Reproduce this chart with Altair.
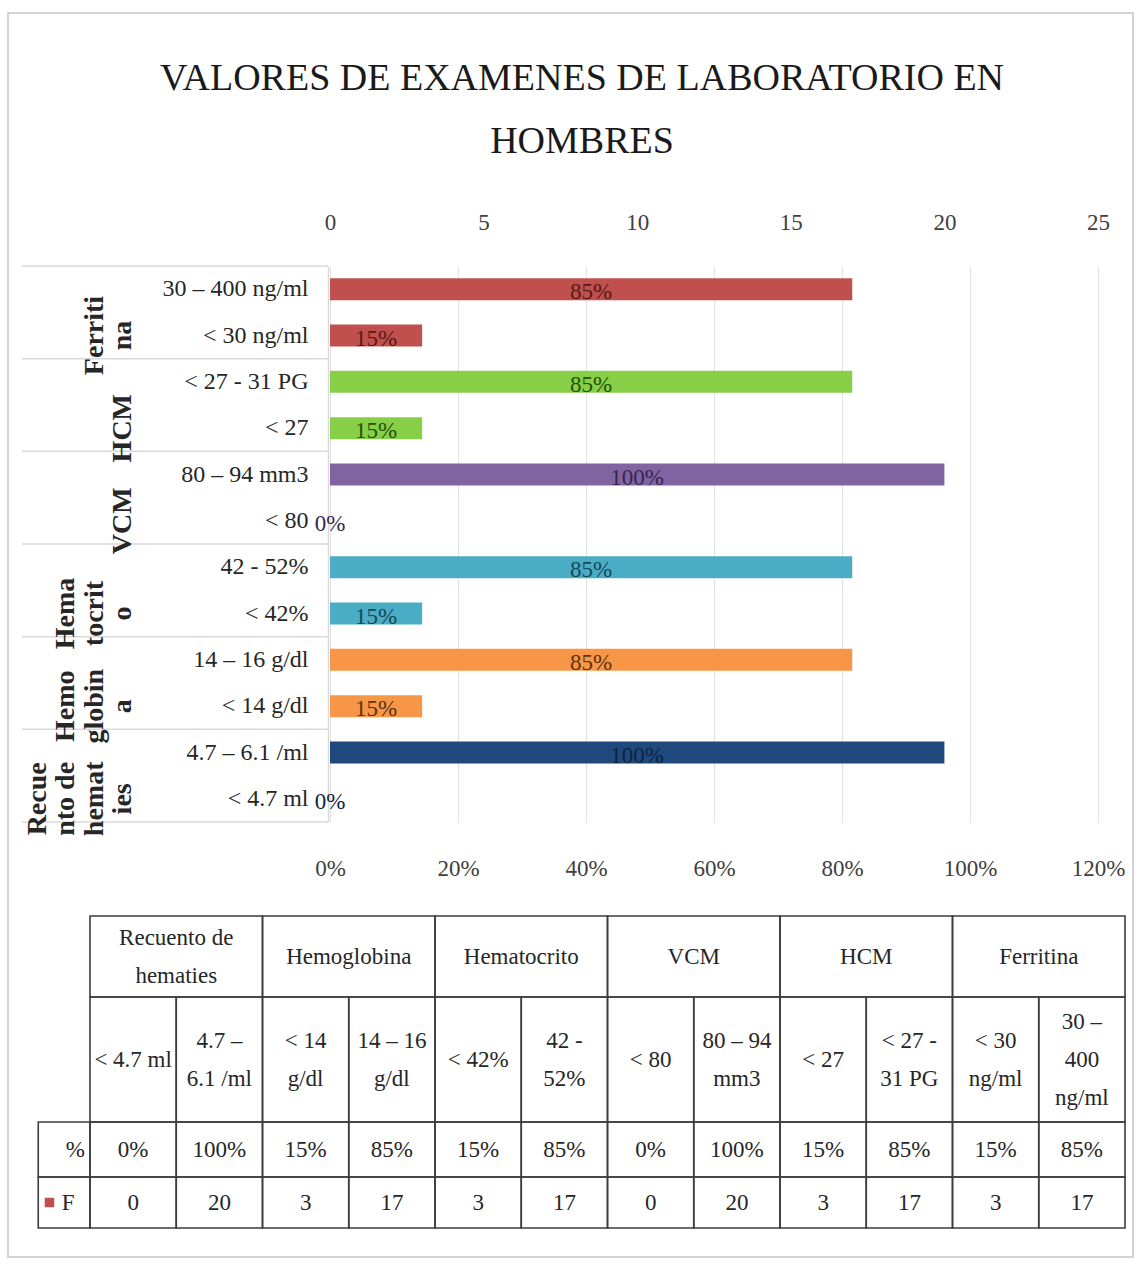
import altair as alt
import pandas as pd

# ---- data (Excel order: first category sits at the bottom of the bar chart) ----
groups = ["Recuento de hematies", "Hemoglobina", "Hematocrito", "VCM", "HCM", "Ferritina"]
group_axis_text = ["Recue\nnto de\nhemat\nies", "Hemo\nglobin\na", "Hema\ntocrit\no",
                   "VCM", "HCM", "Ferriti\nna"]
group_table_text = ["Recuento de\nhematies", "Hemoglobina", "Hematocrito", "VCM", "HCM", "Ferritina"]
ranges = ["< 4.7 ml", "4.7 – 6.1 /ml", "< 14 g/dl", "14 – 16 g/dl", "< 42%", "42 - 52%",
          "< 80", "80 – 94 mm3", "< 27", "< 27 - 31 PG", "< 30 ng/ml", "30 – 400 ng/ml"]
ranges_table_text = ["< 4.7 ml", "4.7 –\n6.1 /ml", "< 14\ng/dl", "14 – 16\ng/dl", "< 42%",
                     "42 -\n52%", "< 80", "80 – 94\nmm3", "< 27", "< 27 -\n31 PG",
                     "< 30\nng/ml", "30 –\n400\nng/ml"]
freq = [0, 20, 3, 17, 3, 17, 0, 20, 3, 17, 3, 17]
pct = [0.00, 1.00, 0.15, 0.85, 0.15, 0.85, 0.00, 1.00, 0.15, 0.85, 0.15, 0.85]
freq_ticks = [0, 5, 10, 15, 20, 25]
pct_ticks = [0, 0.2, 0.4, 0.6, 0.8, 1.0, 1.2]
bar_colors = ["#1F497D", "#F79646", "#4BACC6", "#8064A2", "#86CF47", "#C0504D"]
label_colors = ["#0E2341", "#5C3311", "#134A59", "#37264F", "#24510C", "#5A1816"]
title_text = "VALORES DE EXAMENES DE LABORATORIO EN\nHOMBRES"

# ---- layout ----
W, H = 1125, 1244
PLOT_X = [322, 1090]
PLOT_Y = [253, 809]
TABLE_X = [82, 1117]
TABLE_TOP = 903
ROW_EDGES = [0, 81, 206, 261, 312]
TABLE_LINE_HEIGHT = 38
LABEL_COL = -0.6
GROUP_LINE_X = [115, 29.5]      # columns of the rotated group names, last line first
SERIF = "Liberation Serif"
INK = "#262626"
LINE = "#3c3c3c"

x_freq = alt.Scale(domain=[0, 25], range=PLOT_X, nice=False)
x_pct = alt.Scale(domain=[0, 1.2], range=PLOT_X, nice=False)
y_cat = alt.Scale(domain=ranges[::-1], range=PLOT_Y, paddingInner=0, paddingOuter=0)
x_line = alt.Scale(domain=[0, 3], range=GROUP_LINE_X, nice=False, zero=False)
x_tab = alt.Scale(domain=[0, 12], range=TABLE_X, nice=False, zero=False)
y_tab = alt.Scale(domain=[0, ROW_EDGES[-1]], range=[TABLE_TOP, TABLE_TOP + ROW_EDGES[-1]],
                  nice=False, zero=False)

df = pd.DataFrame({
    "group": [groups[i // 2] for i in range(len(ranges))],
    "range": ranges,
    "freq": freq,
    "pct": pct,
})

# vertical gridlines follow the percentage scale
pct_grid = alt.Chart(df).mark_point(opacity=0).encode(
    x=alt.X("pct:Q", scale=x_pct,
            axis=alt.Axis(orient="top", values=pct_ticks, title=None, grid=True,
                          gridColor="#e2e2e2", gridWidth=1, labels=False, ticks=False,
                          domain=False)),
    y=alt.Y("range:N", scale=y_cat, axis=None),
)

# percentage axis along the bottom
pct_axis = alt.Chart(df).mark_point(opacity=0).encode(
    x=alt.X("pct:Q", scale=x_pct,
            axis=alt.Axis(orient="bottom", values=pct_ticks, format=".0%", title=None,
                          grid=False, ticks=False, tickSize=0, domain=False,
                          labelFont=SERIF, labelFontSize=23, labelColor="#404040",
                          labelBaseline="middle", labelPadding=0, labelFlush=False,
                          offset=-389)),
    y=alt.Y("range:N", scale=y_cat, axis=None),
)

bars = alt.Chart(df).mark_bar(size=22).encode(
    x=alt.X("freq:Q", scale=x_freq,
            axis=alt.Axis(orient="top", values=freq_ticks, title=None, grid=False,
                          ticks=False, tickSize=0, domain=False, labelFont=SERIF,
                          labelFontSize=23, labelColor="#404040", labelBaseline="middle",
                          labelPadding=0, labelFlush=False, offset=-209)),
    y=alt.Y("range:N", scale=y_cat,
            axis=alt.Axis(title=None, ticks=False, tickSize=0, grid=False, domain=True,
                          domainColor="#d9d9d9", domainWidth=1.5, labelFont=SERIF,
                          labelFontSize=24, labelColor=INK, labelPadding=20,
                          labelLimit=300, offset=-320)),
    color=alt.Color("group:N", scale=alt.Scale(domain=groups, range=bar_colors), legend=None),
)

bar_labels = alt.Chart(df).transform_calculate(mid="datum.freq / 2").mark_text(
    font=SERIF, fontSize=23, dy=3
).encode(
    x=alt.X("mid:Q", scale=x_freq, axis=None),
    y=alt.Y("range:N", scale=y_cat, axis=None),
    text=alt.Text("pct:Q", format=".0%"),
    color=alt.Color("group:N", scale=alt.Scale(domain=groups, range=label_colors), legend=None),
)

# multi-level category axis: separators and rotated group names
sep_style = dict(color="#d9d9d9", strokeWidth=1.5)
sep_bottom = alt.Chart(pd.DataFrame({"range": ranges[0::2]})).mark_rule(**sep_style).encode(
    y=alt.Y("range:N", scale=y_cat, axis=None, bandPosition=1),
    x=alt.value(14), x2=alt.value(320),
)
sep_top = alt.Chart(pd.DataFrame({"range": [ranges[-1]]})).mark_rule(**sep_style).encode(
    y=alt.Y("range:N", scale=y_cat, axis=None, bandPosition=0),
    x=alt.value(14), x2=alt.value(320),
)

group_rows = []
for g, text in enumerate(group_axis_text):
    lines = text.split("\n")
    for k, line in enumerate(lines):
        group_rows.append({"range": ranges[2 * g], "line": line, "from_end": len(lines) - 1 - k})
group_labels = alt.Chart(pd.DataFrame(group_rows)).mark_text(
    font=SERIF, fontSize=28, fontWeight="bold", angle=270, align="center",
    baseline="middle", color=INK,
).encode(
    y=alt.Y("range:N", scale=y_cat, axis=None, bandPosition=0),
    x=alt.X("from_end:Q", scale=x_line, axis=None),
    text="line:N",
)

# ---- data table under the chart ----
cells = []
for g, name in enumerate(group_table_text):
    cells.append(dict(x0=2 * g, x1=2 * g + 2, r=0, text=name))
for j in range(len(ranges)):
    cells.append(dict(x0=j, x1=j + 1, r=1, text=ranges_table_text[j]))
    cells.append(dict(x0=j, x1=j + 1, r=2, text=f"{round(pct[j] * 100)}%"))
    cells.append(dict(x0=j, x1=j + 1, r=3, text=str(freq[j])))
for r in (2, 3):
    cells.append(dict(x0=LABEL_COL, x1=0, r=r, text=""))
cells_df = pd.DataFrame(cells)
cells_df["y0"] = [ROW_EDGES[r] for r in cells_df["r"]]
cells_df["y1"] = [ROW_EDGES[r + 1] for r in cells_df["r"]]

# one row per text line, each line centred around its cell's middle
line_rows = []
for c in cells:
    if not c["text"]:
        continue
    lines = c["text"].split("\n")
    n = len(lines)
    mid_y = (ROW_EDGES[c["r"]] + ROW_EDGES[c["r"] + 1]) / 2
    for k, line in enumerate(lines):
        line_rows.append({
            "xm": (c["x0"] + c["x1"]) / 2,
            "ym": mid_y + (k - (n - 1) / 2) * TABLE_LINE_HEIGHT,
            "line": line,
        })

table_grid = alt.Chart(cells_df).mark_rect(fillOpacity=0, stroke=LINE, strokeWidth=1.6).encode(
    x=alt.X("x0:Q", scale=x_tab, axis=None), x2="x1:Q",
    y=alt.Y("y0:Q", scale=y_tab, axis=None), y2="y1:Q",
)
table_text = alt.Chart(pd.DataFrame(line_rows)).mark_text(
    font=SERIF, fontSize=23, color=INK, baseline="middle"
).encode(
    x=alt.X("xm:Q", scale=x_tab, axis=None),
    y=alt.Y("ym:Q", scale=y_tab, axis=None),
    text="line:N",
)

row_names = pd.DataFrame({
    "xpos": [0.0, -0.12],
    "ym": [(ROW_EDGES[2] + ROW_EDGES[3]) / 2, (ROW_EDGES[3] + ROW_EDGES[4]) / 2],
    "text": ["%", "F"],
})
row_text = alt.Chart(row_names).mark_text(
    font=SERIF, fontSize=23, align="right", dx=-5, color=INK
).encode(
    x=alt.X("xpos:Q", scale=x_tab, axis=None),
    y=alt.Y("ym:Q", scale=y_tab, axis=None),
    text="text:N",
)
legend_key = alt.Chart(pd.DataFrame({"xpos": [-0.47], "ym": [(ROW_EDGES[3] + ROW_EDGES[4]) / 2]})).mark_square(
    size=90, color=bar_colors[-1], opacity=1, filled=True
).encode(
    x=alt.X("xpos:Q", scale=x_tab, axis=None),
    y=alt.Y("ym:Q", scale=y_tab, axis=None),
)

title = alt.Chart(pd.DataFrame({"t": [title_text]})).mark_text(
    font=SERIF, fontSize=38, align="center", baseline="alphabetic",
    lineBreak="\n", lineHeight=63, color="#1a1a1a",
).encode(x=alt.value(574), y=alt.value(77), text="t:N")

chart = alt.layer(
    pct_grid, pct_axis, sep_top, sep_bottom, bars, bar_labels, group_labels,
    table_grid, table_text, row_text, legend_key, title,
).resolve_scale(
    x="independent", y="independent", color="independent"
).properties(
    width=W, height=H,
    padding={"left": 8, "top": 13, "right": 8, "bottom": 10},
    autosize=alt.AutoSizeParams(type="none"),
    background="white",
).configure_view(stroke="#d4d4d4", strokeWidth=2)

chart.save("out.html", embed_options={"renderer": "svg", "actions": False})
